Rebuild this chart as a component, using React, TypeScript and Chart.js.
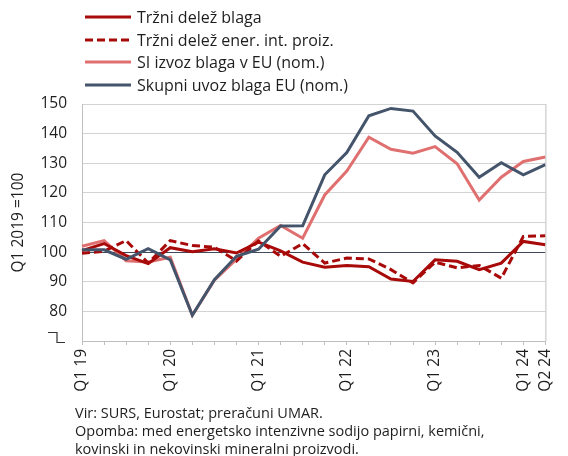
import React, { useEffect, useRef } from 'react';
import { Chart, registerables } from 'chart.js';
Chart.register(...registerables);

const quarters = [
  'Q1 19', 'Q2 19', 'Q3 19', 'Q4 19',
  'Q1 20', 'Q2 20', 'Q3 20', 'Q4 20',
  'Q1 21', 'Q2 21', 'Q3 21', 'Q4 21',
  'Q1 22', 'Q2 22', 'Q3 22', 'Q4 22',
  'Q1 23', 'Q2 23', 'Q3 23', 'Q4 23',
  'Q1 24', 'Q2 24',
];
const shownTicks = ['Q1 19', 'Q1 20', 'Q1 21', 'Q1 22', 'Q1 23', 'Q1 24', 'Q2 24'];

const trzniDelezBlaga = [100.5, 102.9, 98.8, 96.1, 101.5, 100.1, 101.1, 99.7, 103.4, 100.4, 96.6, 94.9, 95.5, 95.1, 90.9, 90.1, 97.4, 96.9, 94.1, 96.3, 103.6, 102.5];
const trzniDelezEner = [99.6, 100.3, 103.9, 96.3, 103.9, 102.2, 101.7, 97.0, 103.8, 98.6, 102.9, 96.3, 98.0, 97.7, 94.1, 89.6, 96.6, 94.7, 95.5, 91.2, 105.3, 105.5];
const siIzvozBlaga = [102.0, 103.9, 97.1, 96.7, 98.3, 78.7, 90.5, 97.6, 104.7, 109.0, 104.7, 119.3, 127.4, 138.8, 134.7, 133.4, 135.6, 129.8, 117.6, 125.3, 130.6, 132.1];
const skupniUvozEU = [100.8, 100.8, 97.6, 101.2, 97.4, 78.7, 90.7, 98.6, 101.0, 108.8, 108.9, 126.1, 133.6, 146.0, 148.5, 147.6, 139.2, 133.7, 125.3, 130.2, 126.1, 129.5];

const seriesNames = [
  'Tržni delež blaga',
  'Tržni delež ener. int. proiz.',
  'SI izvoz blaga v EU (nom.)',
  'Skupni uvoz blaga EU (nom.)',
];

const RED = '#A80A0A';
const PINK = '#E07070';
const BLUE = '#44546A';
const GRID = '#D3D3D3';
const AXIS = '#BFBFBF';
const TEXT = '#1E1E1E';
const FONT = '"Open Sans", sans-serif';

const legendItems = [
  { name: seriesNames[0], color: RED, dash: '' },
  { name: seriesNames[1], color: RED, dash: '8 4' },
  { name: seriesNames[2], color: PINK, dash: '' },
  { name: seriesNames[3], color: BLUE, dash: '' },
];

const framePlugin = {
  id: 'frame',
  afterDraw(chart: any) {
    const { ctx, chartArea } = chart;
    const y = chart.scales.y;
    ctx.save();
    ctx.strokeStyle = AXIS;
    ctx.lineWidth = 1;
    ctx.beginPath();
    ctx.moveTo(chartArea.right + 0.5, chartArea.top);
    ctx.lineTo(chartArea.right + 0.5, chartArea.bottom);
    ctx.stroke();
    // axis break symbol at the bottom of the value axis
    const yb = Math.round(y.getPixelForValue(70)) + 1.5;
    ctx.strokeStyle = '#333333';
    ctx.lineWidth = 1.2;
    ctx.beginPath();
    ctx.moveTo(48, yb - 10);
    ctx.lineTo(57, yb - 10);
    ctx.lineTo(57, yb);
    ctx.lineTo(65, yb);
    ctx.stroke();
    ctx.restore();
  },
};

export default function App() {
  const ref = useRef<HTMLCanvasElement>(null);
  useEffect(() => {
    document.body.style.margin = '0';
    const chart = new Chart(ref.current!, {
      type: 'line',
      data: {
        labels: quarters,
        datasets: [
          { label: seriesNames[0], data: trzniDelezBlaga, borderColor: RED, borderWidth: 3, pointRadius: 0, tension: 0, order: 1 },
          { label: seriesNames[1], data: trzniDelezEner, borderColor: RED, borderWidth: 3, borderDash: [8, 4], pointRadius: 0, tension: 0, order: 2 },
          { label: seriesNames[2], data: siIzvozBlaga, borderColor: PINK, borderWidth: 3, pointRadius: 0, tension: 0, order: 3 },
          { label: seriesNames[3], data: skupniUvozEU, borderColor: BLUE, borderWidth: 3, pointRadius: 0, tension: 0, order: 0 },
        ],
      },
      options: {
        animation: false,
        responsive: false,
        layout: { padding: { top: 104, right: 10, left: 0, bottom: 0 } },
        plugins: { legend: { display: false }, tooltip: { enabled: false } },
        scales: {
          x: {
            offset: false,
            grid: { drawOnChartArea: false, drawTicks: true, tickLength: 4, color: AXIS },
            border: { color: AXIS },
            ticks: {
              autoSkip: false,
              maxRotation: 90,
              minRotation: 90,
              padding: 4,
              color: TEXT,
              font: { family: FONT, size: 15.5 },
              callback: (_v: any, i: number) => (shownTicks.includes(quarters[i]) ? quarters[i] : ''),
            },
            afterFit: (s: any) => { s.height = 115; },
          },
          y: {
            min: 70,
            max: 150,
            ticks: {
              stepSize: 10,
              padding: 15,
              color: TEXT,
              font: { family: FONT, size: 15.5 },
              callback: (v: any) => (v === 70 ? '' : v),
            },
            grid: {
              drawTicks: false,
              color: (c: any) => (c.tick && c.tick.value === 100 ? '#3F4A5C' : GRID),
            },
            border: { color: AXIS },
            title: {
              display: true,
              text: 'Q1 2019 =100',
              color: TEXT,
              font: { family: FONT, size: 15.5 },
              padding: { top: 9, bottom: 0 },
            },
            afterFit: (s: any) => { s.width = 82; },
          },
        },
      },
      plugins: [framePlugin],
    });
    return () => chart.destroy();
  }, []);

  return (
    <div style={{ position: 'relative', width: 568, height: 456, overflow: 'hidden', fontFamily: FONT, color: TEXT }}>
      <canvas ref={ref} width={568} height={456} style={{ position: 'absolute', left: 0, top: 0 }} />
      {legendItems.map((it, i) => (
        <div key={i} style={{ position: 'absolute', left: 85, top: 17 + i * 22.5 - 11, height: 22, display: 'flex', alignItems: 'center', whiteSpace: 'nowrap' }}>
          <svg width={46} height={6} style={{ display: 'block' }}>
            <line x1={0} y1={3} x2={46} y2={3} stroke={it.color} strokeWidth={3} strokeDasharray={it.dash || undefined} />
          </svg>
          <span style={{ marginLeft: 6, fontSize: 16, lineHeight: '22px' }}>{it.name}</span>
        </div>
      ))}
      <div style={{ position: 'absolute', left: 75, top: 404, fontSize: 14.5, lineHeight: '18px', whiteSpace: 'nowrap' }}>
        <div>Vir: SURS, Eurostat; preračuni UMAR.</div>
        <div>Opomba: med energetsko intenzivne sodijo papirni, kemični,</div>
        <div>kovinski in nekovinski mineralni proizvodi.</div>
      </div>
    </div>
  );
}
